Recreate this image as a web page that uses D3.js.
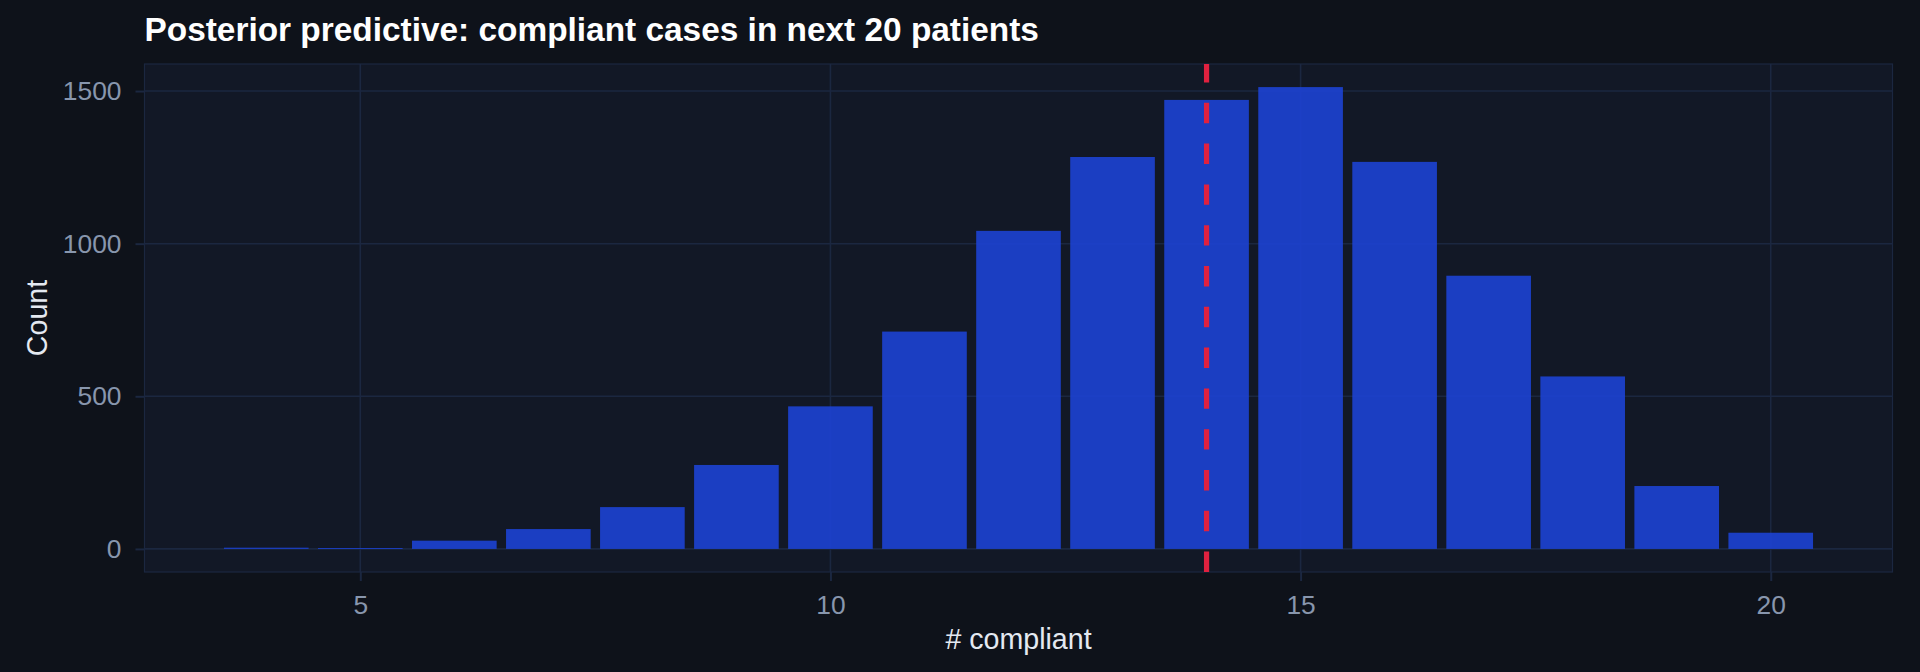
<!DOCTYPE html>
<html>
<head>
<meta charset="utf-8">
<script src="https://cdn.jsdelivr.net/npm/d3@7/dist/d3.min.js"></script>
<style>
  html, body { margin: 0; padding: 0; background: #0e121a; }
  svg { display: block; }
  text { font-family: "Liberation Sans", Arial, Helvetica, sans-serif; }
</style>
</head>
<body>
<svg id="chart" width="1920" height="672"></svg>
<script>
// ---- data ----
const compliantValues = [4, 5, 6, 7, 8, 9, 10, 11, 12, 13, 14, 15, 16, 17, 18, 19, 20];
const drawCounts = [4, 3, 27, 65, 137, 275, 467, 712, 1042, 1284, 1471, 1513, 1268, 895, 565, 206, 53];
const xTickValues = [5, 10, 15, 20];
const yTickValues = [0, 500, 1000, 1500];
const referenceLine = [14];
const titleText = "Posterior predictive: compliant cases in next 20 patients";
const xTitle = "# compliant";
const yTitle = "Count";

// ---- layout ----
const W = 1920, H = 672;
const panel = { left: 144.5, right: 1892.5, top: 64, bottom: 572 };
const barWidth = 0.9;

const colors = {
  bg: "#0e121a",
  panel: "#121826",
  grid: "#1b2740",
  bar: "#1d43d4",
  vline: "#e0213f",
  tick: "#8896ad",
  axisTitle: "#e4e9f1",
  title: "#ffffff"
};

const svg = d3.select("#chart");

svg.append("rect").attr("x", 0).attr("y", 0).attr("width", W).attr("height", H).attr("fill", colors.bg);

// scales with ggplot-like 5% expansion
const xMin = d3.min(compliantValues) - barWidth / 2;
const xMax = d3.max(compliantValues) + barWidth / 2;
const xPad = (xMax - xMin) * 0.05;
const x = d3.scaleLinear().domain([xMin - xPad, xMax + xPad]).range([panel.left, panel.right]);

const yMaxData = d3.max(drawCounts);
const yPad = yMaxData * 0.05;
const y = d3.scaleLinear().domain([-yPad, yMaxData + yPad]).range([panel.bottom, panel.top]);

// panel
svg.append("rect")
  .attr("x", panel.left).attr("y", panel.top)
  .attr("width", panel.right - panel.left).attr("height", panel.bottom - panel.top)
  .attr("fill", colors.panel)
  .attr("stroke", colors.grid).attr("stroke-width", 1.2);

// grid
const grid = svg.append("g");
grid.selectAll("line.gx").data(xTickValues).join("line")
  .attr("x1", d => x(d)).attr("x2", d => x(d))
  .attr("y1", panel.top).attr("y2", panel.bottom)
  .attr("stroke", colors.grid).attr("stroke-width", 1.6);
grid.selectAll("line.gy").data(yTickValues).join("line")
  .attr("x1", panel.left).attr("x2", panel.right)
  .attr("y1", d => y(d)).attr("y2", d => y(d))
  .attr("stroke", colors.grid).attr("stroke-width", 1.6);

// bars
svg.append("g").selectAll("rect").data(compliantValues).join("rect")
  .attr("x", d => x(d - barWidth / 2))
  .attr("width", d => x(d + barWidth / 2) - x(d - barWidth / 2))
  .attr("y", (d, i) => y(drawCounts[i]))
  .attr("height", (d, i) => y(0) - y(drawCounts[i]))
  .attr("fill", colors.bar)
  .attr("fill-opacity", 0.9);

// reference line (dashed), drawn from bottom to top
svg.append("g").selectAll("line").data(referenceLine).join("line")
  .attr("x1", d => x(d)).attr("x2", d => x(d))
  .attr("y1", panel.bottom).attr("y2", panel.top)
  .attr("stroke", colors.vline).attr("stroke-width", 5.2)
  .attr("stroke-dasharray", "20.4 20.4");

// axes
const xAxis = d3.axisBottom(x).tickValues(xTickValues).tickSize(9).tickPadding(14).tickFormat(d3.format("d"));
const gx = svg.append("g").attr("transform", `translate(0,${panel.bottom})`).call(xAxis);
gx.select(".domain").remove();
gx.selectAll(".tick line").attr("stroke", colors.grid).attr("stroke-width", 2);
gx.selectAll(".tick text").attr("fill", colors.tick).attr("font-size", 26.4)
  .attr("font-family", '"Liberation Sans", Arial, sans-serif');

const yAxis = d3.axisLeft(y).tickValues(yTickValues).tickSize(9).tickPadding(14).tickFormat(d3.format("d"));
const gy = svg.append("g").attr("transform", `translate(${panel.left},0)`).call(yAxis);
gy.select(".domain").remove();
gy.selectAll(".tick line").attr("stroke", colors.grid).attr("stroke-width", 2);
gy.selectAll(".tick text").attr("fill", colors.tick).attr("font-size", 26.4)
  .attr("font-family", '"Liberation Sans", Arial, sans-serif');

// titles
svg.append("text")
  .attr("x", (panel.left + panel.right) / 2).attr("y", 649)
  .attr("text-anchor", "middle").attr("fill", colors.axisTitle).attr("font-size", 28.6)
  .text(xTitle);

svg.append("text")
  .attr("transform", `translate(47,${(panel.top + panel.bottom) / 2}) rotate(-90)`)
  .attr("text-anchor", "middle").attr("fill", colors.axisTitle).attr("font-size", 28.6)
  .text(yTitle);

svg.append("text")
  .attr("x", panel.left).attr("y", 41)
  .attr("fill", colors.title).attr("font-size", 33.4).attr("font-weight", "bold")
  .text(titleText);
</script>
</body>
</html>
